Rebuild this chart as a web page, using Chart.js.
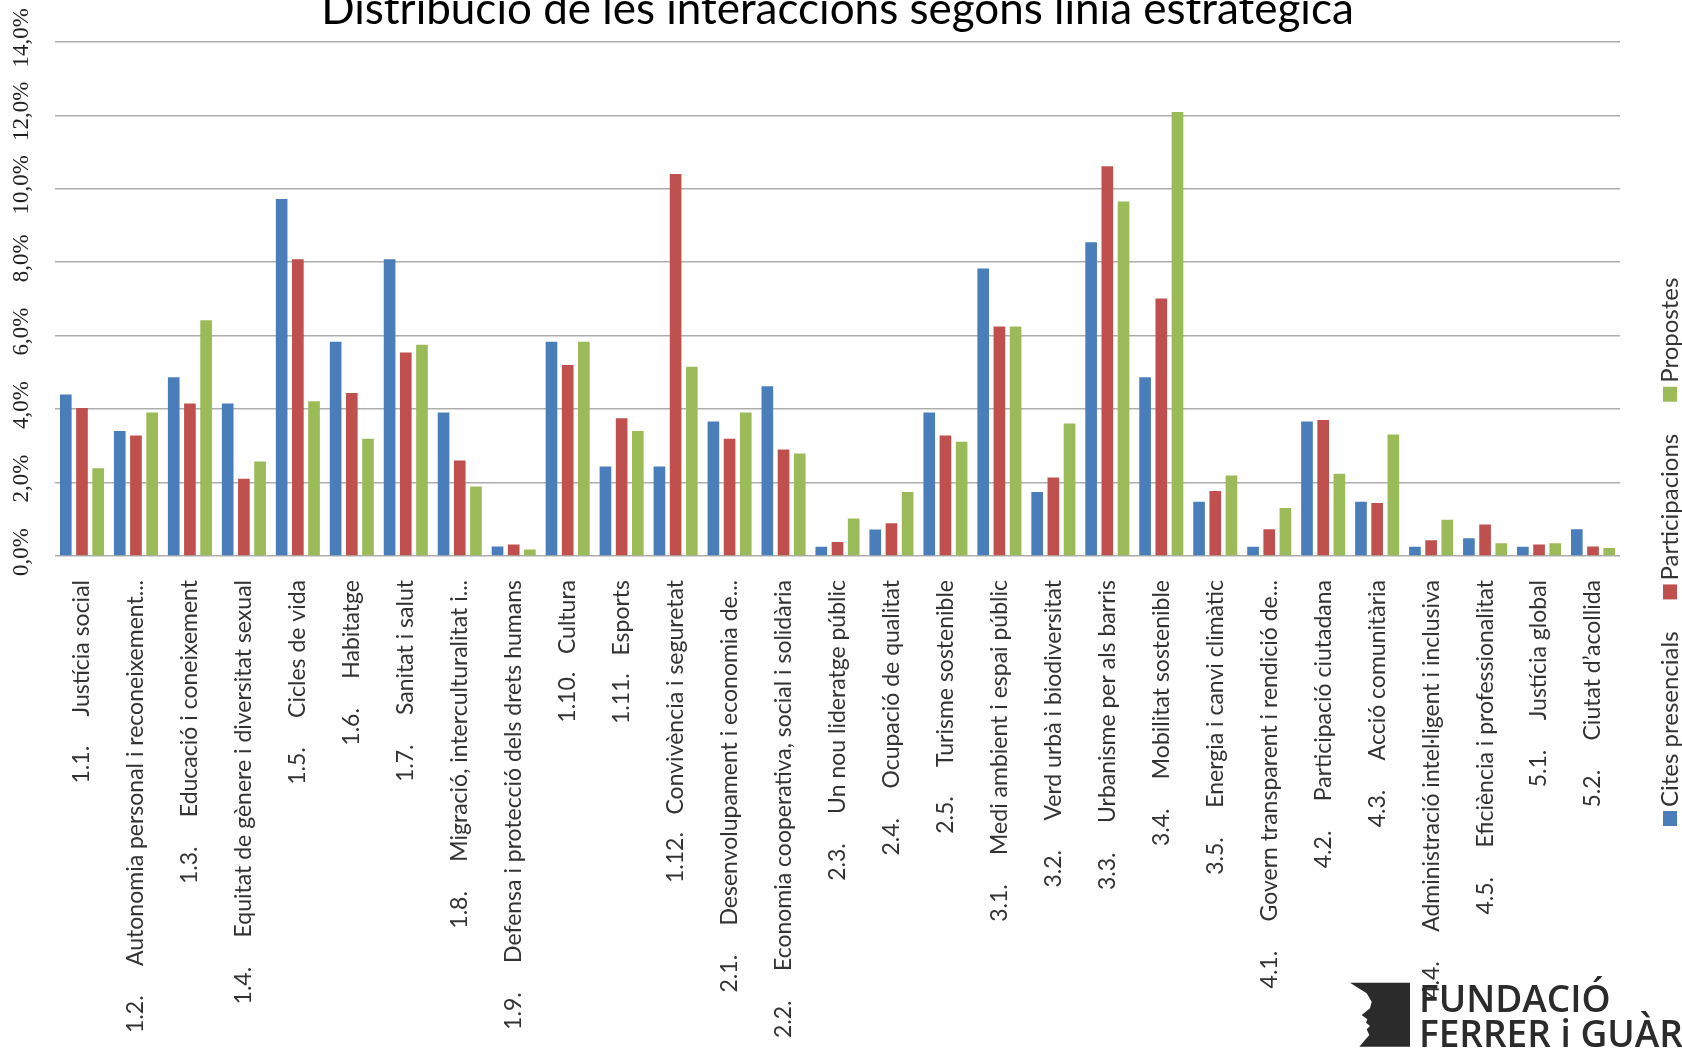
<!DOCTYPE html>
<html lang="ca">

<head>
    <meta charset="UTF-8">
    <title>Distribució de les interaccions segons línia estratègica</title>
    <script src="https://cdn.jsdelivr.net/npm/chart.js"></script>
    <style>
        body {
            margin: 0;
            background: #fff;
        }
        #wrap {
            width: 1682px;
            height: 1060px;
            position: relative;
        }
    </style>
</head>

<body>
    <div id="wrap"><canvas id="chart"></canvas></div>

    <script>
        // línies estratègiques (codi + nom, com al gràfic original)
        const codes = ['1.1.', '1.2.', '1.3.', '1.4.', '1.5.', '1.6.', '1.7.', '1.8.', '1.9.', '1.10.', '1.11.', '1.12.',
            '2.1.', '2.2.', '2.3.', '2.4.', '2.5.', '3.1.', '3.2.', '3.3.', '3.4.', '3.5.',
            '4.1.', '4.2.', '4.3.', '4.4.', '4.5.', '5.1.', '5.2.'];
        const names = ['Justícia social', 'Autonomia personal i reconeixement...', 'Educació i coneixement',
            'Equitat de gènere i diversitat sexual', 'Cicles de vida', 'Habitatge', 'Sanitat i salut',
            'Migració, interculturalitat i...', 'Defensa i protecció dels drets humans', 'Cultura', 'Esports',
            'Convivència i seguretat', 'Desenvolupament i economia de...', 'Economia cooperativa, social i solidària',
            'Un nou lideratge públic', 'Ocupació de qualitat', 'Turisme sostenible', 'Medi ambient i espai públic',
            'Verd urbà i biodiversitat', 'Urbanisme per als barris', 'Mobilitat sostenible', 'Energia i canvi climàtic',
            'Govern transparent i rendició de...', 'Participació ciutadana', 'Acció comunitària',
            'Administració intel·ligent i inclusiva', 'Eficiència i professionalitat', 'Justícia global',
            'Ciutat d’acollida'];

        // percentatges (%)
        const cites = [4.40, 3.40, 4.87, 4.15, 9.72, 5.83, 8.08, 3.91, 0.26, 5.83, 2.44, 2.44,
            3.66, 4.62, 0.25, 0.72, 3.91, 7.83, 1.74, 8.54, 4.87, 1.48,
            0.25, 3.66, 1.48, 0.25, 0.48, 0.25, 0.73];
        const participacions = [4.03, 3.28, 4.15, 2.10, 8.08, 4.44, 5.54, 2.60, 0.31, 5.20, 3.75, 10.40,
            3.19, 2.90, 0.38, 0.89, 3.28, 6.25, 2.14, 10.61, 7.01, 1.77,
            0.73, 3.70, 1.44, 0.43, 0.86, 0.31, 0.26];
        const propostes = [2.39, 3.91, 6.42, 2.57, 4.21, 3.19, 5.75, 1.89, 0.18, 5.83, 3.40, 5.15,
            3.91, 2.79, 1.02, 1.74, 3.11, 6.25, 3.61, 9.65, 12.09, 2.19,
            1.31, 2.24, 3.31, 0.99, 0.35, 0.35, 0.22];

        const seriesNames = ['Cites presencials', 'Participacions', 'Propostes'];
        const yTicks = [0, 2, 4, 6, 8, 10, 12, 14];

        const colors = ['#4a7ebb', '#c0504d', '#9bbb59'];
        const labels = codes.map((c, i) => c + (c.length > 4 ? '   ' : '     ') + names[i]);

        // etiquetes de l'eix Y girades (llegint de baix a dalt)
        const yLabelsPlugin = {
            id: 'yLabels',
            afterDraw(chart) {
                const { ctx } = chart;
                const y = chart.scales.y;
                ctx.save();
                ctx.font = '23px "Liberation Serif"';
                ctx.fillStyle = '#222';
                ctx.textAlign = 'center';
                ctx.textBaseline = 'middle';
                y.ticks.forEach(t => {
                    const py = y.getPixelForValue(t.value);
                    ctx.save();
                    ctx.translate(22, py - 4);
                    ctx.rotate(-Math.PI / 2);
                    ctx.fillText(t.value.toFixed(1).replace('.', ',') + '%', 0, 0);
                    ctx.restore();
                });
                ctx.restore();
            }
        };

        // llegenda vertical a la dreta
        const sideLegendPlugin = {
            id: 'sideLegend',
            afterDraw(chart) {
                const { ctx } = chart;
                ctx.save();
                ctx.font = '24px Lato';
                ctx.textBaseline = 'middle';
                ctx.textAlign = 'left';
                let pos = 826;
                const x = 1670;
                chart.data.datasets.forEach(ds => {
                    ctx.fillStyle = ds.backgroundColor;
                    ctx.fillRect(x - 7, pos - 15, 14, 15);
                    pos -= 19;
                    ctx.save();
                    ctx.translate(x, pos);
                    ctx.rotate(-Math.PI / 2);
                    ctx.fillStyle = '#333';
                    ctx.fillText(ds.label, 0, 0);
                    ctx.restore();
                    pos -= ctx.measureText(ds.label).width + 32;
                });
                ctx.restore();
            }
        };

        // logotip de la fundació (cantonada inferior dreta)
        const logoPlugin = {
            id: 'logo',
            afterDraw(chart) {
                const { ctx } = chart;
                const pts = [[90, 128], [270, 128], [270, 320], [118, 320], [135, 300], [148, 285], [140, 268],
                    [150, 258], [138, 248], [142, 238], [125, 225], [150, 205], [155, 185], [140, 160]];
                ctx.save();
                ctx.fillStyle = '#2b2b2b';
                ctx.beginPath();
                pts.forEach((p, i) => {
                    const px = 1320 + p[0] / 3, py = 940 + p[1] / 3;
                    if (i === 0) ctx.moveTo(px, py); else ctx.lineTo(px, py);
                });
                ctx.closePath();
                ctx.fill();
                ctx.font = '600 37px "Open Sans"';
                ctx.textBaseline = 'alphabetic';
                ctx.fillText('FUNDACIÓ', 1419, 1012);
                ctx.fillText('FERRER i GUÀRDIA', 1419, 1047);
                ctx.restore();
            }
        };

        new Chart(document.getElementById('chart'), {
            type: 'bar',
            data: {
                labels: labels,
                datasets: [
                    { label: seriesNames[0], data: cites, backgroundColor: colors[0] },
                    { label: seriesNames[1], data: participacions, backgroundColor: colors[1] },
                    { label: seriesNames[2], data: propostes, backgroundColor: colors[2] }
                ]
            },
            options: {
                responsive: true,
                maintainAspectRatio: false,
                animation: false,
                categoryPercentage: 0.9,
                barPercentage: 0.72,
                layout: {
                    padding: { left: 55, right: 62, top: 0, bottom: 0 }
                },
                plugins: {
                    legend: { display: false },
                    tooltip: { enabled: false },
                    title: {
                        display: true,
                        text: 'Distribució de les interaccions segons línia estratègica',
                        color: '#000',
                        font: { family: 'Lato', size: 44, weight: 'normal', lineHeight: 1.2 },
                        padding: { top: -17, bottom: 6 }
                    }
                },
                scales: {
                    x: {
                        grid: { display: false },
                        border: { display: false },
                        ticks: {
                            autoSkip: false,
                            minRotation: 90,
                            maxRotation: 90,
                            padding: 16,
                            color: '#333',
                            font: { family: 'Lato', size: 23 }
                        },
                        afterFit(scale) {
                            scale.height = 504;
                        }
                    },
                    y: {
                        min: 0,
                        max: 14,
                        afterBuildTicks(scale) {
                            scale.ticks = yTicks.map(v => ({ value: v }));
                        },
                        grid: { color: '#adadad', lineWidth: 1.5, drawTicks: false },
                        border: { display: false },
                        ticks: { display: false }
                    }
                }
            },
            plugins: [yLabelsPlugin, sideLegendPlugin, logoPlugin]
        });
    </script>
</body>

</html>
